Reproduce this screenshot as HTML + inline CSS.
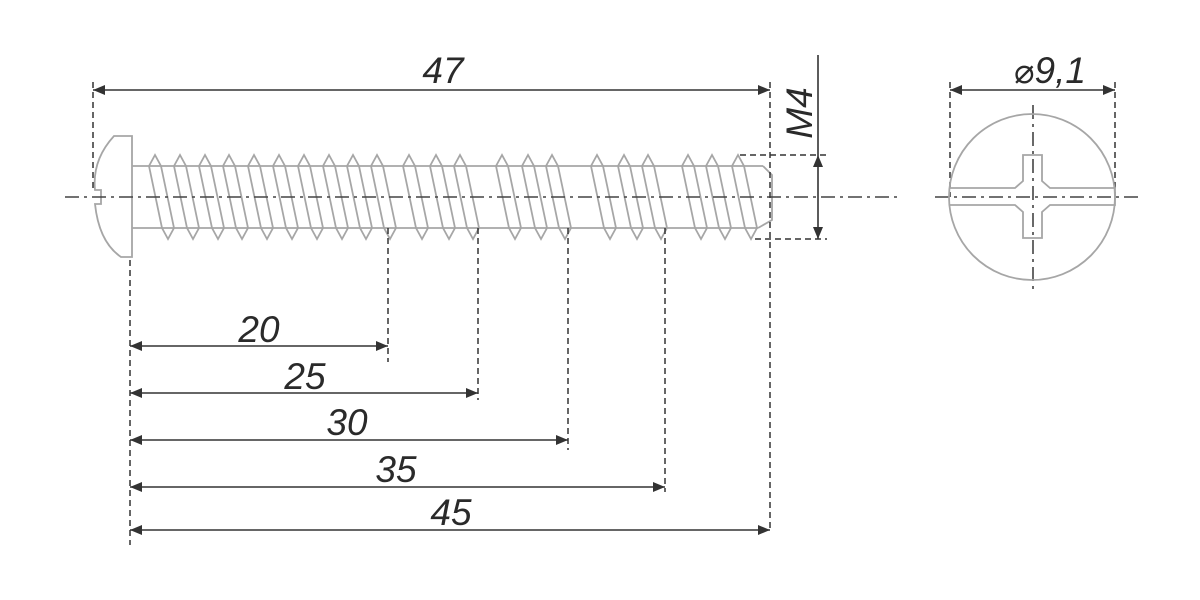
<!DOCTYPE html>
<html><head><meta charset="utf-8"><style>
html,body{margin:0;padding:0;background:#fff;}
svg{display:block;}
text{font-family:"Liberation Sans",sans-serif;font-style:italic;fill:#2a2a2a;}
</style></head><body>
<svg width="1200" height="600" viewBox="0 0 1200 600" xmlns="http://www.w3.org/2000/svg">
<defs>
<g id="t" fill="none" stroke="#a6a6a6" stroke-width="1.8">
<polyline points="-6,166 0,155 6,166"/>
<polyline points="7,228 13,239 19,228"/>
<line x1="-6" y1="166" x2="7" y2="228"/>
<line x1="6" y1="166" x2="19" y2="228"/>
</g>
<marker id="a" viewBox="0 0 12 10" refX="12" refY="5" markerWidth="12" markerHeight="10" markerUnits="userSpaceOnUse" orient="auto-start-reverse"><path d="M0,0 L12,5 L0,10 Z" fill="#333"/></marker>
</defs>
<rect width="1200" height="600" fill="#fff"/>

<g fill="none" stroke="#a6a6a6" stroke-width="1.8">
<path d="M132,136 H114 Q92,160 95,190 H101 V204 H95 Q99,242 121,257 H132 Z"/>
<line x1="132" y1="166" x2="763" y2="166"/>
<line x1="132" y1="228" x2="758" y2="228"/>
<polyline points="763,166 772,175 772,220 758,228"/>
</g>
<g>
<use href="#t" x="155"/><use href="#t" x="180"/><use href="#t" x="205"/><use href="#t" x="229"/><use href="#t" x="254"/><use href="#t" x="279"/><use href="#t" x="304"/><use href="#t" x="329"/><use href="#t" x="353"/><use href="#t" x="377"/>
<use href="#t" x="409"/><use href="#t" x="436"/><use href="#t" x="460"/>
<use href="#t" x="502"/><use href="#t" x="528"/><use href="#t" x="552"/>
<use href="#t" x="597"/><use href="#t" x="624"/><use href="#t" x="648"/>
<use href="#t" x="688"/><use href="#t" x="712"/><use href="#t" x="738"/>
</g>

<g stroke="#444" stroke-width="1.6" stroke-dasharray="14,5,3,5" fill="none">
<line x1="65" y1="197" x2="900" y2="197"/>
<line x1="935" y1="197" x2="1140" y2="197"/>
<line x1="1033" y1="105" x2="1033" y2="292"/>
</g>

<g stroke="#333" stroke-width="1.5" stroke-dasharray="6,4" fill="none">
<line x1="93" y1="82" x2="93" y2="190"/>
<line x1="770" y1="82" x2="770" y2="530"/>
<line x1="130" y1="260" x2="130" y2="545"/>
<line x1="388" y1="228" x2="388" y2="362"/>
<line x1="478" y1="228" x2="478" y2="400"/>
<line x1="568" y1="228" x2="568" y2="450"/>
<line x1="665" y1="228" x2="665" y2="492"/>
<line x1="740" y1="155" x2="827" y2="155"/>
<line x1="755" y1="239" x2="827" y2="239"/>
<line x1="950" y1="82" x2="950" y2="197"/>
<line x1="1115" y1="82" x2="1115" y2="197"/>
</g>

<g stroke="#333" stroke-width="1.6" fill="none">
<line x1="93" y1="90" x2="770" y2="90" marker-start="url(#a)" marker-end="url(#a)"/>
<line x1="130" y1="346" x2="388" y2="346" marker-start="url(#a)" marker-end="url(#a)"/>
<line x1="130" y1="393" x2="478" y2="393" marker-start="url(#a)" marker-end="url(#a)"/>
<line x1="130" y1="440" x2="568" y2="440" marker-start="url(#a)" marker-end="url(#a)"/>
<line x1="130" y1="487" x2="665" y2="487" marker-start="url(#a)" marker-end="url(#a)"/>
<line x1="130" y1="530" x2="770" y2="530" marker-start="url(#a)" marker-end="url(#a)"/>
<line x1="818" y1="55" x2="818" y2="155"/>
<line x1="818" y1="155" x2="818" y2="239" marker-start="url(#a)" marker-end="url(#a)"/>
<line x1="950" y1="90" x2="1115" y2="90" marker-start="url(#a)" marker-end="url(#a)"/>
</g>

<g font-size="37">
<text x="443" y="83" text-anchor="middle">47</text>
<text x="259" y="342" text-anchor="middle">20</text>
<text x="305" y="389" text-anchor="middle">25</text>
<text x="347" y="435" text-anchor="middle">30</text>
<text x="396" y="482" text-anchor="middle">35</text>
<text x="451" y="525" text-anchor="middle">45</text>
<text x="0" y="0" text-anchor="middle" transform="translate(812,113) rotate(-90)">M4</text>
<text x="1050" y="83" text-anchor="middle"><tspan font-style="normal" font-family="DejaVu Sans, sans-serif" font-size="34">⌀</tspan>9,1</text>
</g>

<g fill="none" stroke="#a6a6a6" stroke-width="1.8">
<circle cx="1032" cy="197" r="83"/>
<path d="M950,188 H1015 L1023,181 V155 H1042 V181 L1050,188 H1115 V205 H1050 L1042,212 V238 H1023 V212 L1015,205 H950"/>
</g>
</svg>
</body></html>
